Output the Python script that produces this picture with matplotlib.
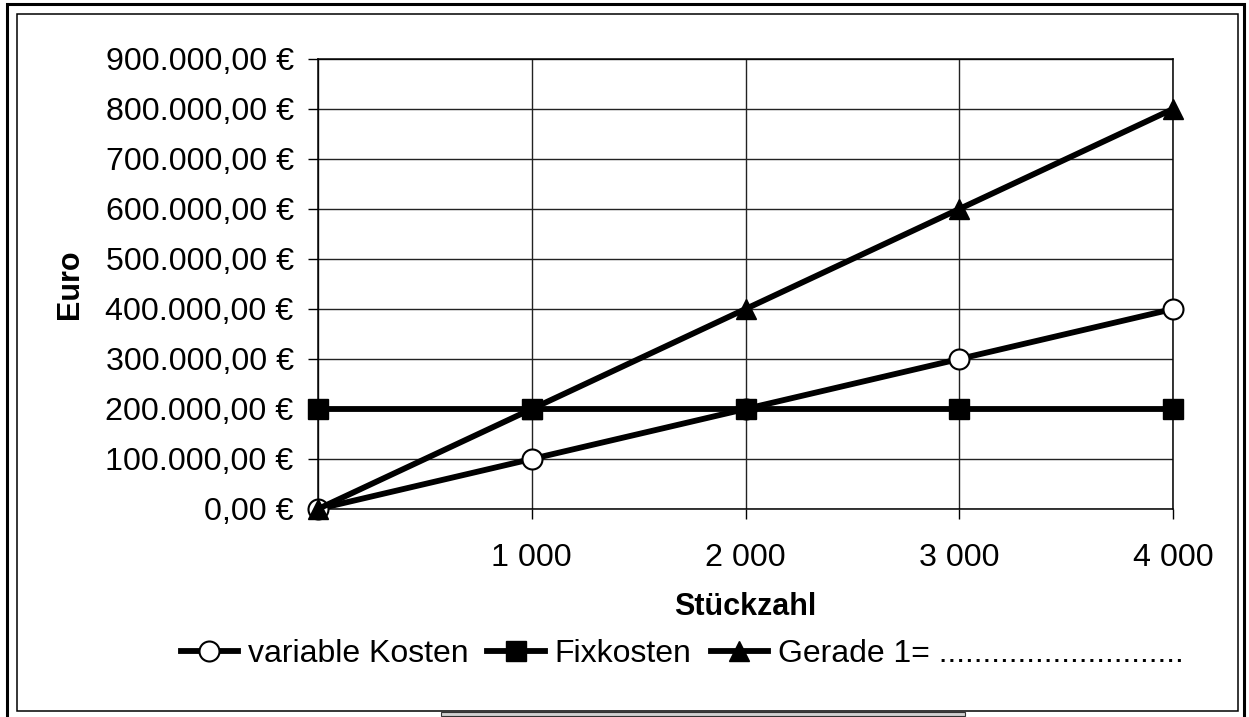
import matplotlib.pyplot as plt
from matplotlib.patches import Rectangle

# Daten
stueckzahl = [0, 1000, 2000, 3000, 4000]
x_labels = ['', '1 000', '2 000', '3 000', '4 000']
variable_kosten = [0, 100000, 200000, 300000, 400000]
fixkosten = [200000, 200000, 200000, 200000, 200000]
gerade_1 = [0, 200000, 400000, 600000, 800000]
y_ticks = [0, 100000, 200000, 300000, 400000, 500000, 600000, 700000, 800000, 900000]

W, H = 1249, 717
plt.rcParams['font.family'] = ['Liberation Sans', 'DejaVu Sans']


def euro(v):
    s = f"{v:,.2f}".replace(',', 'X').replace('.', ',').replace('X', '.')
    return s + ' \u20ac'


def fx(px):
    return px / W


def fy(py):
    return 1 - py / H


fig = plt.figure(figsize=(W / 100, H / 100), dpi=100)

# Rahmen (außen dick, innen dünn)
fig.add_artist(Rectangle((fx(6.5), fy(730)), fx(1244) - fx(6.5), fy(3.7) - fy(730),
                         transform=fig.transFigure, fill=False, ec='black', lw=2.2))
fig.add_artist(Rectangle((fx(17), fy(711)), fx(1238) - fx(17), fy(14) - fy(711),
                         transform=fig.transFigure, fill=False, ec='black', lw=1.1))
fig.add_artist(Rectangle((fx(441), fy(716)), fx(965) - fx(441), fy(712) - fy(716),
                         transform=fig.transFigure, fc='#d0d0d0', ec='#333333', lw=0.8))

ax = fig.add_axes([fx(318), fy(509), fx(1173) - fx(318), fy(59) - fy(509)])
pos = list(range(len(stueckzahl)))

ax.plot(pos, variable_kosten, color='black', lw=4.2, marker='o', ms=14.4,
        mfc='white', mec='black', mew=1.5, label='variable Kosten',
        clip_on=False, zorder=3)
ax.plot(pos, fixkosten, color='black', lw=4.2, marker='s', ms=14.5,
        mfc='black', mec='black', mew=1, label='Fixkosten',
        clip_on=False, zorder=4)
ax.plot(pos, gerade_1, color='black', lw=4.2, marker='^', ms=14.4,
        mfc='black', mec='black', mew=1,
        label='Gerade 1= ' + '.' * 28, clip_on=False, zorder=5)

ax.set_xlim(0, len(pos) - 1)
ax.set_ylim(0, 900000)
ax.set_xticks(pos)
ax.set_xticklabels(x_labels)
ax.set_yticks(y_ticks)
ax.set_yticklabels([euro(v) for v in y_ticks])

ax.grid(True, color='#222222', lw=1)
ax.set_axisbelow(True)
for s in ax.spines.values():
    s.set_color('black')
    s.set_linewidth(1.1)

ax.tick_params(axis='both', direction='out', length=7, width=1,
               labelsize=23.2, color='black')
ax.tick_params(axis='y', pad=10.5)
ax.tick_params(axis='x', pad=17.5)

ax.set_xlabel('St\u00fcckzahl', fontsize=22, fontweight='bold')
ax.xaxis.set_label_coords(0.5, (509 - 607) / 450)
ax.xaxis.label.set_va('center')
ax.set_ylabel('Euro', fontsize=22, fontweight='bold')
ax.yaxis.set_label_coords((70 - 318) / 855, 0.5)
ax.yaxis.label.set_va('center')

fig.legend(loc='center', bbox_to_anchor=(fx(682), fy(654)), ncol=3,
           frameon=False, fontsize=23, handlelength=1.8, handletextpad=0.3,
           columnspacing=0.6, borderaxespad=0)

fig.savefig('out.png', dpi=100)
